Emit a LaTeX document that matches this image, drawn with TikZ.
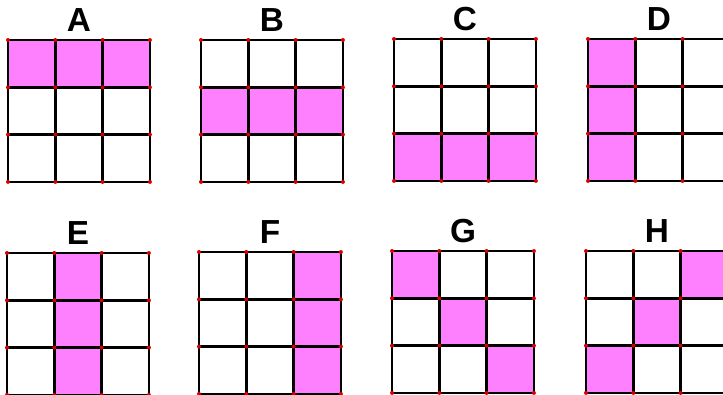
\documentclass[tikz,border=0pt]{standalone}
\usepackage{fontspec}
\setmainfont{Liberation Sans}
\usepackage{tikz}
\usetikzlibrary{positioning}
\definecolor{cellpink}{RGB}{255, 128, 255}
\definecolor{dotred}{RGB}{215, 0, 0}
\tikzset{
  gridline/.style={black, line width=1.8pt, line cap=rect},
  cellfill/.style={fill=cellpink},
  vertexdot/.style={fill=dotred, draw=none},
  gridlabel/.style={font=\bfseries\fontsize{25}{29}\selectfont, inner sep=0pt}
}

\begin{document}
\begin{tikzpicture}[x=0.75pt, y=-0.75pt]
  \useasboundingbox (0,0) rectangle (723,394);
  \foreach \name/\gx/\gy/\cells in {
      A/8/40/{0/0,1/0,2/0},
      B/201/40/{0/1,1/1,2/1},
      C/394/39/{0/2,1/2,2/2},
      D/588/39/{0/0,0/1,0/2},
      E/7/253/{1/0,1/1,1/2},
      F/199/252/{2/0,2/1,2/2},
      G/392/251/{0/0,1/1,2/2},
      H/586/251/{2/0,1/1,0/2}}{
    \begin{scope}[shift={(\gx,\gy)}]
      % pink cells
      \foreach \c/\r in \cells
        \fill[cellfill] (\c*47.3,\r*47.3) rectangle ++(47.3,47.3);
      % grid lines
      \foreach \i in {0,...,3}{
        \draw[gridline] (\i*47.3,0) -- (\i*47.3,141.9);
        \draw[gridline] (0,\i*47.3) -- (141.9,\i*47.3);
      }
      % red vertices
      \foreach \i in {0,...,3}
        \foreach \j in {0,...,3}
          \fill[vertexdot] (\i*47.3,\j*47.3) circle (2);
      % letter
      \node[gridlabel] (label\name) at (71,-20) {\name};
    \end{scope}
  }
\end{tikzpicture}
\end{document}
